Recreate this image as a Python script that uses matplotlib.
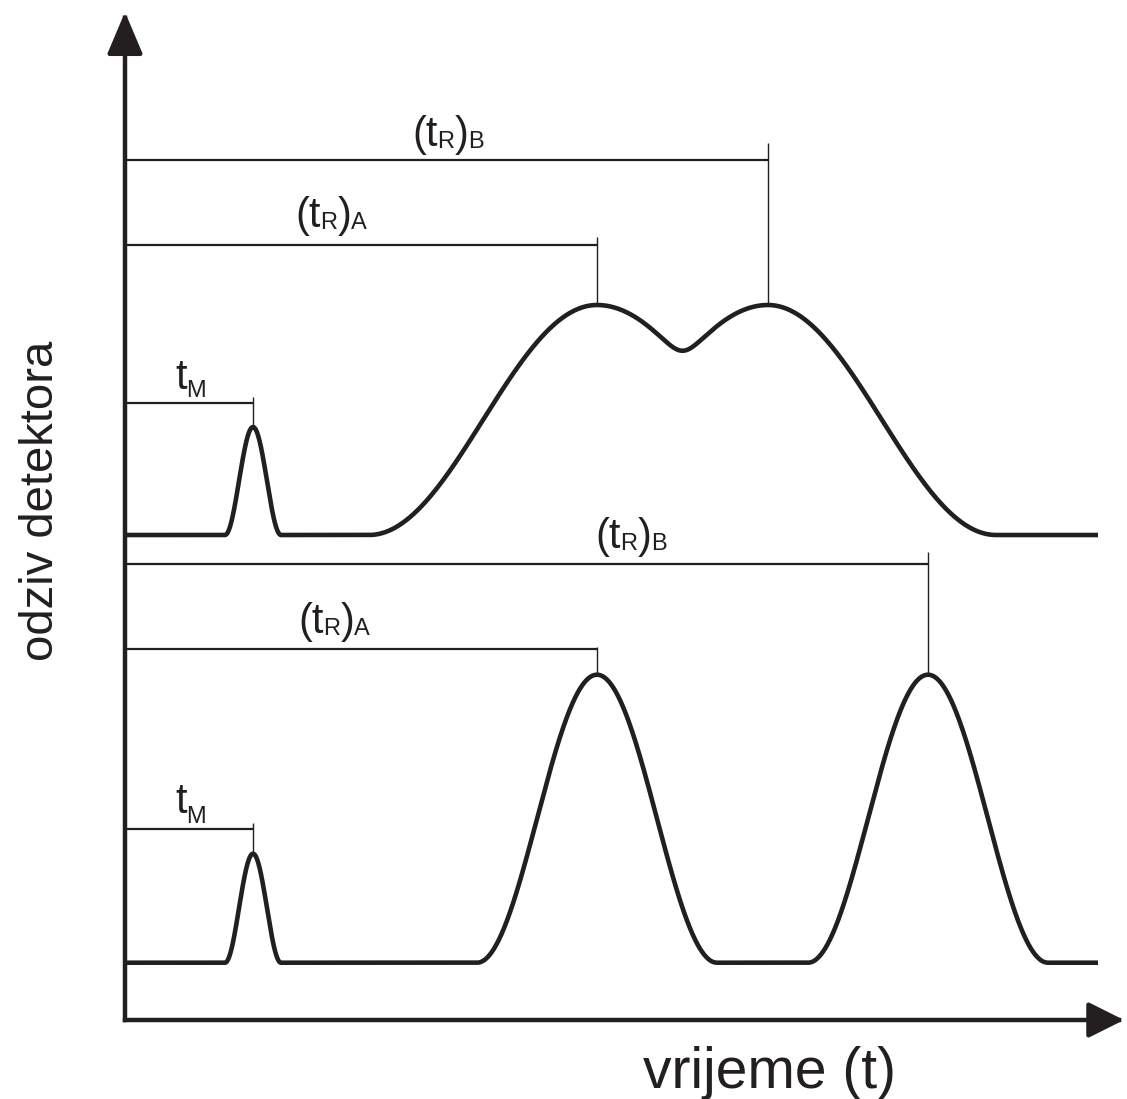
import numpy as np
import matplotlib.pyplot as plt
from matplotlib import transforms as mtransforms
from matplotlib.patches import FancyArrowPatch

plt.rcParams['font.family'] = ['Liberation Sans', 'DejaVu Sans']

INK = '#231f20'

# retention times (time axis units)
t_M = 1.28
top_tR = [4.72, 6.43]        # A, B - poorly separated
bottom_tR = [4.72, 8.03]     # A, B - well separated

# peak heights above baseline: M, A, B
top_heights = [1.08, 2.30, 2.30]
bottom_heights = [1.09, 2.88, 2.88]

# half widths at the base of the peaks
width_M = 0.28
top_outer_width = 2.28
top_inner_width = 2.60
bottom_width = 1.20

# baselines of the two chromatograms and end of the record
top_baseline = 4.85
bottom_baseline = 0.573
t_end = 9.73


def bell(t, center, half_left, half_right=None):
    # smooth peak with finite support (raised cosine)
    if half_right is None:
        half_right = half_left
    w = np.where(t < center, half_left, half_right)
    u = np.clip((t - center) / w, -1, 1)
    return 0.5 * (1 + np.cos(np.pi * u))


t = np.linspace(0, t_end, 3000)

# upper chromatogram: A and B overlap into one broad band
pA = bell(t, top_tR[0], top_outer_width, top_inner_width)
pB = bell(t, top_tR[1], top_inner_width, top_outer_width)
band = (pA ** 12 + pB ** 12) ** (1 / 12)
y_top = top_baseline + top_heights[0] * bell(t, t_M, width_M) + top_heights[1] * band

# lower chromatogram: separated peaks
y_bottom = (bottom_baseline
            + bottom_heights[0] * bell(t, t_M, width_M)
            + bottom_heights[1] * bell(t, bottom_tR[0], bottom_width)
            + bottom_heights[2] * bell(t, bottom_tR[1], bottom_width))

fig = plt.figure(figsize=(11.27, 10.99), dpi=100)
ax = fig.add_axes([0, 0, 1, 1])
ax.set_xlim(-1.25, 10.02)
ax.set_ylim(-0.79, 10.20)
ax.axis('off')

ax.plot(t, y_top, color=INK, lw=3.3, solid_capstyle='butt')
ax.plot(t, y_bottom, color=INK, lw=3.3, solid_capstyle='butt')


def bracket(t_r, level, tick_top, peak_top):
    ax.plot([0, t_r], [level, level], color=INK, lw=1.6, solid_capstyle='butt')
    ax.plot([t_r, t_r], [tick_top, peak_top], color=INK, lw=1.0, solid_capstyle='butt')


# upper chromatogram brackets
bracket(top_tR[1], 8.60, 8.77, top_baseline + top_heights[2])
bracket(top_tR[0], 7.75, 7.83, top_baseline + top_heights[1])
bracket(t_M, 6.17, 6.23, top_baseline + top_heights[0])
# lower chromatogram brackets
bracket(bottom_tR[1], 4.56, 4.68, bottom_baseline + bottom_heights[2])
bracket(bottom_tR[0], 3.71, 3.73, bottom_baseline + bottom_heights[1])
bracket(t_M, 1.91, 1.97, bottom_baseline + bottom_heights[0])

# axes with arrow heads
ax.add_patch(FancyArrowPatch((0, 0), (0, 10.08), arrowstyle='-|>,head_length=2.6,head_width=1.1',
                             mutation_scale=10, color=INK, lw=3.2, shrinkA=0, shrinkB=0,
                             capstyle='projecting'))
ax.add_patch(FancyArrowPatch((0, 0), (9.99, 0), arrowstyle='-|>,head_length=2.2,head_width=1.1',
                             mutation_scale=10, color=INK, lw=3.2, shrinkA=0, shrinkB=0,
                             capstyle='projecting'))

renderer = fig.canvas.get_renderer()
MAIN, SUB = 30, 17


def label(x, y, parts):
    # write text pieces one after another on a common baseline
    dx = 0
    for s, size, dy in parts:
        tr = mtransforms.offset_copy(ax.transData, fig=fig, x=dx, y=dy, units='dots')
        txt = ax.text(x, y, s, fontsize=size, color=INK, transform=tr, ha='left', va='baseline')
        dx += txt.get_window_extent(renderer).width


def tr_label(x, y, which):
    label(x, y, [('(t', MAIN, 0), ('R', SUB, -2), (')', MAIN, 0), (which, SUB, -2)])


tr_label(2.87, 8.74, 'B')
tr_label(1.70, 7.93, 'A')
label(0.50, 6.31, [('t', MAIN, 0), ('M', SUB, -8)])
tr_label(4.70, 4.72, 'B')
tr_label(1.73, 3.87, 'A')
label(0.50, 2.07, [('t', MAIN, 0), ('M', SUB, -10)])

ax.text(-0.72, 5.19, 'odziv detektora', fontsize=34, color=INK, rotation=90,
        rotation_mode='anchor', ha='center', va='baseline')
ax.text(5.18, -0.68, 'vrijeme (t)', fontsize=41, color=INK, ha='left', va='baseline')

fig.savefig('out.png', dpi=100)
